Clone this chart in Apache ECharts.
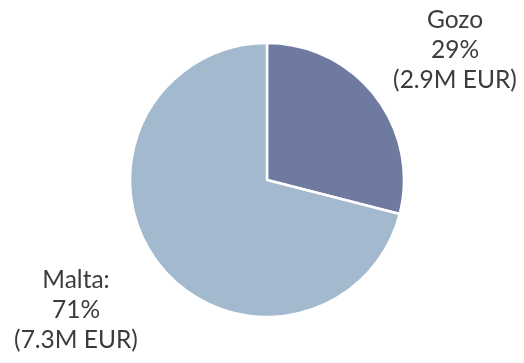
<!DOCTYPE html>
<html>
<head>
<meta charset="utf-8">
<script src="https://cdn.jsdelivr.net/npm/echarts@6/dist/echarts.min.js"></script>
<style>
  html, body { margin: 0; padding: 0; background: #ffffff; }
  #chart { width: 524px; height: 363px; }
</style>
</head>
<body>
<div id="chart"></div>
<script>
// Regional split of the budget
const regions = ['Gozo', 'Malta'];
const regionTitles = ['Gozo', 'Malta:'];
const sharePct = [29, 71];
const amountMEur = [2.9, 7.3];
const sliceColors = ['#6f7aa1', '#a3b9cd'];

// Where each label block is centred (px)
const labelSpots = [[455, 50], [76, 310]];

const chart = echarts.init(document.getElementById('chart'), null, { renderer: 'canvas' });

chart.setOption({
  animation: false,
  series: [{
    type: 'pie',
    center: [267, 180],
    radius: [0, 137],
    startAngle: 90,
    clockwise: true,
    avoidLabelOverlap: false,
    itemStyle: { borderColor: '#ffffff', borderWidth: 2.5 },
    label: {
      show: true,
      position: 'outside',
      formatter: p => regionTitles[p.dataIndex] + '\n' + sharePct[p.dataIndex] + '%\n(' + amountMEur[p.dataIndex] + 'M EUR)',
      fontFamily: 'Lato',
      fontSize: 24.5,
      lineHeight: 30,
      color: '#3c3c3c',
      align: 'center'
    },
    labelLine: { show: false },
    labelLayout: p => ({
      x: labelSpots[p.dataIndex][0],
      y: labelSpots[p.dataIndex][1],
      align: 'center',
      verticalAlign: 'middle'
    }),
    emphasis: { disabled: true },
    data: regions.map((name, i) => ({
      name,
      value: sharePct[i],
      itemStyle: { color: sliceColors[i] }
    }))
  }]
});
</script>
</body>
</html>
